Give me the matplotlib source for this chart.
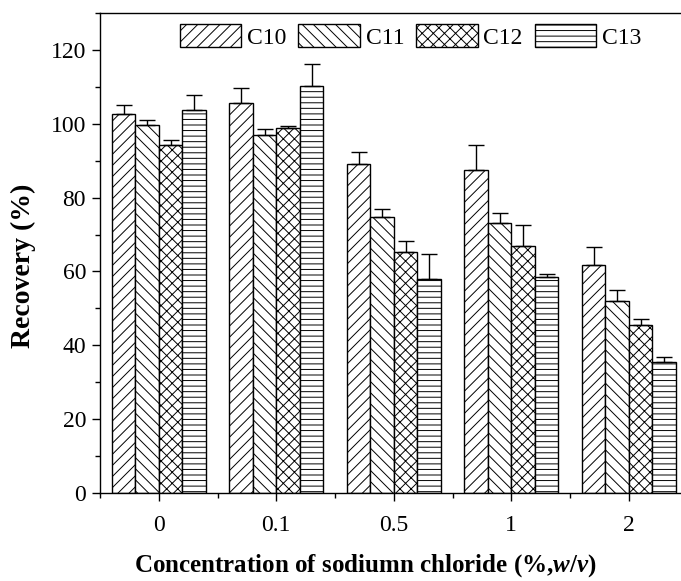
import numpy as np
import matplotlib
matplotlib.use("Agg")
import matplotlib.pyplot as plt
from matplotlib.ticker import MultipleLocator, FixedLocator

plt.rcParams["font.family"] = ["Liberation Serif", "DejaVu Serif"]
plt.rcParams["mathtext.fontset"] = "custom"
plt.rcParams["mathtext.rm"] = "Liberation Serif:bold"
plt.rcParams["mathtext.it"] = "Liberation Serif:italic:bold"
plt.rcParams["hatch.linewidth"] = 0.7

# NaCl concentrations (%, w/v)
concentrations = ["0", "0.1", "0.5", "1", "2"]
series_names = ["C10", "C11", "C12", "C13"]

# Mean recovery (%) per compound at each concentration
c10 = [102.6, 105.7, 89.0, 87.4, 61.7]
c11 = [99.8, 96.9, 74.7, 73.0, 52.0]
c12 = [94.2, 98.8, 65.2, 66.9, 45.6]
c13 = [103.6, 110.3, 57.9, 58.4, 35.4]

# Standard deviations (upper error bars)
c10_err = [2.6, 4.1, 3.3, 6.8, 4.8]
c11_err = [1.1, 1.8, 2.1, 2.9, 2.9]
c12_err = [1.4, 0.7, 3.1, 5.6, 1.4]
c13_err = [4.3, 5.9, 6.8, 0.9, 1.5]

means = [c10, c11, c12, c13]
errors = [c10_err, c11_err, c12_err, c13_err]
hatches = ["///", "\\\\\\", "xxx", "---"]

W, H = 681, 581
fig = plt.figure(figsize=(W / 100, H / 100), dpi=100)
left, right, bottom, top = 100, 687.5, 493, 13
ax = fig.add_axes([left / W, (H - bottom) / H, (right - left) / W, (bottom - top) / H])

x = np.arange(len(concentrations))
bar_w = 0.2
for i, (name, vals, errs, hatch) in enumerate(zip(series_names, means, errors, hatches)):
    pos = x + (i - 1.5) * bar_w
    ax.bar(pos, vals, bar_w, color="white", edgecolor="black", linewidth=1.0,
           hatch=hatch, label=name, zorder=2)
    ax.errorbar(pos, vals, yerr=[np.zeros(len(errs)), errs], fmt="none",
                ecolor="black", elinewidth=1.0, capsize=6, capthick=1.0, zorder=3)

ax.set_xlim(-0.5, 4.5)
ax.set_ylim(0, 130)
ax.set_xticks(x)
ax.set_xticklabels(concentrations)
ax.xaxis.set_minor_locator(FixedLocator(np.arange(-0.5, 5, 1.0)))
ax.set_yticks(np.arange(0, 121, 20))
ax.yaxis.set_minor_locator(MultipleLocator(10))

ax.tick_params(axis="both", which="major", direction="out", length=6, width=1.0,
               labelsize=17)
ax.tick_params(axis="both", which="minor", direction="out", length=3.5, width=1.0)
ax.tick_params(axis="x", which="major", pad=10)
ax.tick_params(axis="y", which="major", pad=4)
ax.tick_params(top=False, right=False, which="both")

for side in ["left", "bottom", "top", "right"]:
    ax.spines[side].set_linewidth(1.0)

# Axis titles placed in figure pixels
fig.text(23 / W, 1 - 266 / H, "Recovery (%)", rotation=90, fontsize=20,
         fontweight="bold", ha="center", va="center")
fig.text(365 / W, 1 - 566 / H, r"Concentration of sodiumn chloride (%,$\mathit{w/v}$)",
         fontsize=18, fontweight="bold", ha="center", va="center")

ax.legend(loc="upper left", bbox_to_anchor=(180 / W, 1 - 24 / H),
          bbox_transform=fig.transFigure, ncol=4, frameon=False,
          fontsize=17, handlelength=2.6, handleheight=1.15,
          handletextpad=0.25, columnspacing=0.5, borderpad=0,
          borderaxespad=0)

fig.savefig("out.png", dpi=100)
